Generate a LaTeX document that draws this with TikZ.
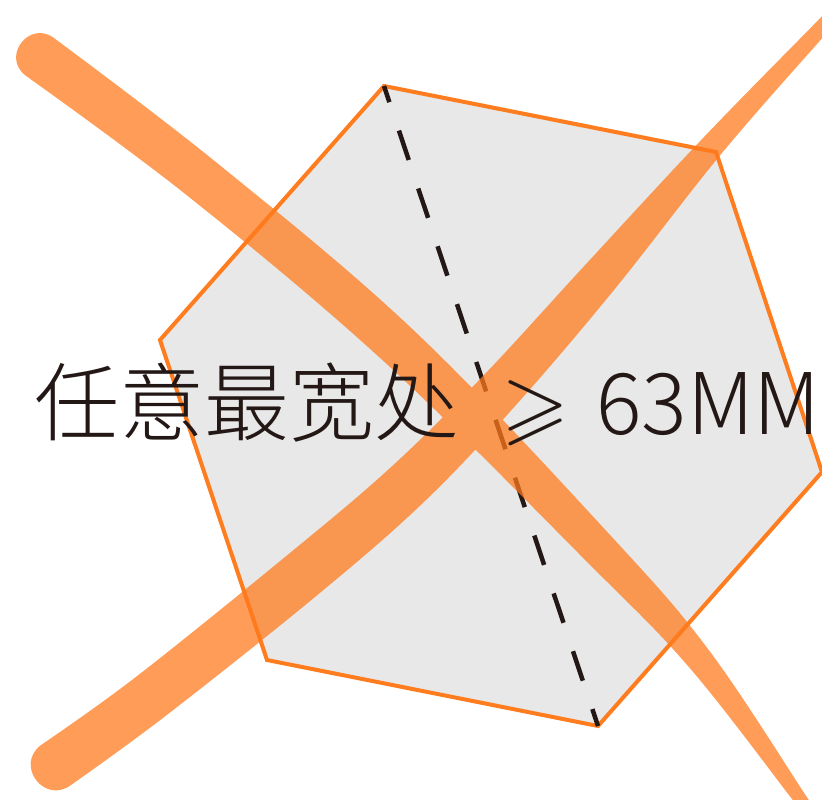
\documentclass[tikz,border=0pt]{standalone}
\usepackage{fontspec}
\IfFontExistsTF{Noto Sans CJK SC Light}
  {\newfontfamily\cjk{Noto Sans CJK SC Light}}
  {\newfontfamily\cjk{Noto Sans CJK SC}}
\newfontfamily\lmmath{latinmodern-math.otf}
\definecolor{hexedge}{RGB}{255,125,30}
\definecolor{hexfill}{RGB}{232,232,232}
\definecolor{ink}{RGB}{35,24,21}
\definecolor{brush}{RGB}{255,122,28}
\tikzset{
  hexside/.style={draw=hexedge, fill=hexfill, line width=4pt, line join=miter},
  dashline/.style={draw=ink, line width=4.5pt, dash pattern=on 31pt off 30pt, dash phase=14pt},
  brushstroke/.style={fill=brush, fill opacity=0.74, draw=none},
  txt/.style={text=ink, inner sep=0pt, font=\fontsize{85}{90}\selectfont}
}
\begin{document}
\begin{tikzpicture}[x=1pt,y=-1pt]
\useasboundingbox (0,0) rectangle (822,800);
\clip (0,0) rectangle (822,800);
% hexagon
\coordinate (hA) at (384,86);
\coordinate (hB) at (716,152);
\coordinate (hC) at (822,472);
\coordinate (hD) at (598,726);
\coordinate (hE) at (267,660);
\coordinate (hF) at (160,340);
\draw[hexside] (hA) -- (hB) -- (hC) -- (hD) -- (hE) -- (hF) -- cycle;
\draw[dashline] (hA) -- (hD);
% brush strokes (one path, union filled once)
\fill[brushstroke]
  plot[smooth, tension=0.6] coordinates {(54.8,38.7) (216.8,162.8) (414.4,331.0) (612.7,537.9) (710,651.7) (806.2,796.1) (824,823)}
  -- plot[smooth, tension=0.6] coordinates {(816,829) (795.8,803.9) (690,668.3) (587.3,562.1) (385.6,363.0) (189.3,197.2) (25.2,75.3)}
  .. controls (0.8,55.6) and (30.4,19.0) .. (54.8,38.7) -- cycle
  plot[smooth, tension=0.6] coordinates {(40.9,745.1) (134.8,677.8) (283.8,558) (390.5,467.6) (483.9,375.1) (585.8,264.3) (704.1,136.9) (816.5,21.9) (839.9,-2.8)}
  -- plot[smooth, tension=0.6] coordinates {(850.1,6.8) (827.5,32.1) (721.9,153.1) (614.2,289.7) (516.1,404.9) (423.5,502.4) (316.2,596) (165.2,716.2) (71.1,784.9)}
  .. controls (44.6,805) and (14.4,765.2) .. (40.9,745.1) -- cycle;
% text
\node[txt, anchor=base west] (label) at (34,434) {\cjk 任意最宽处};
\node[txt, anchor=base west] (geq) at (502,434) {\lmmath ⩾};
\node[txt, anchor=base east] (size) at (821,434) {\cjk 63MM};
\end{tikzpicture}
\end{document}
